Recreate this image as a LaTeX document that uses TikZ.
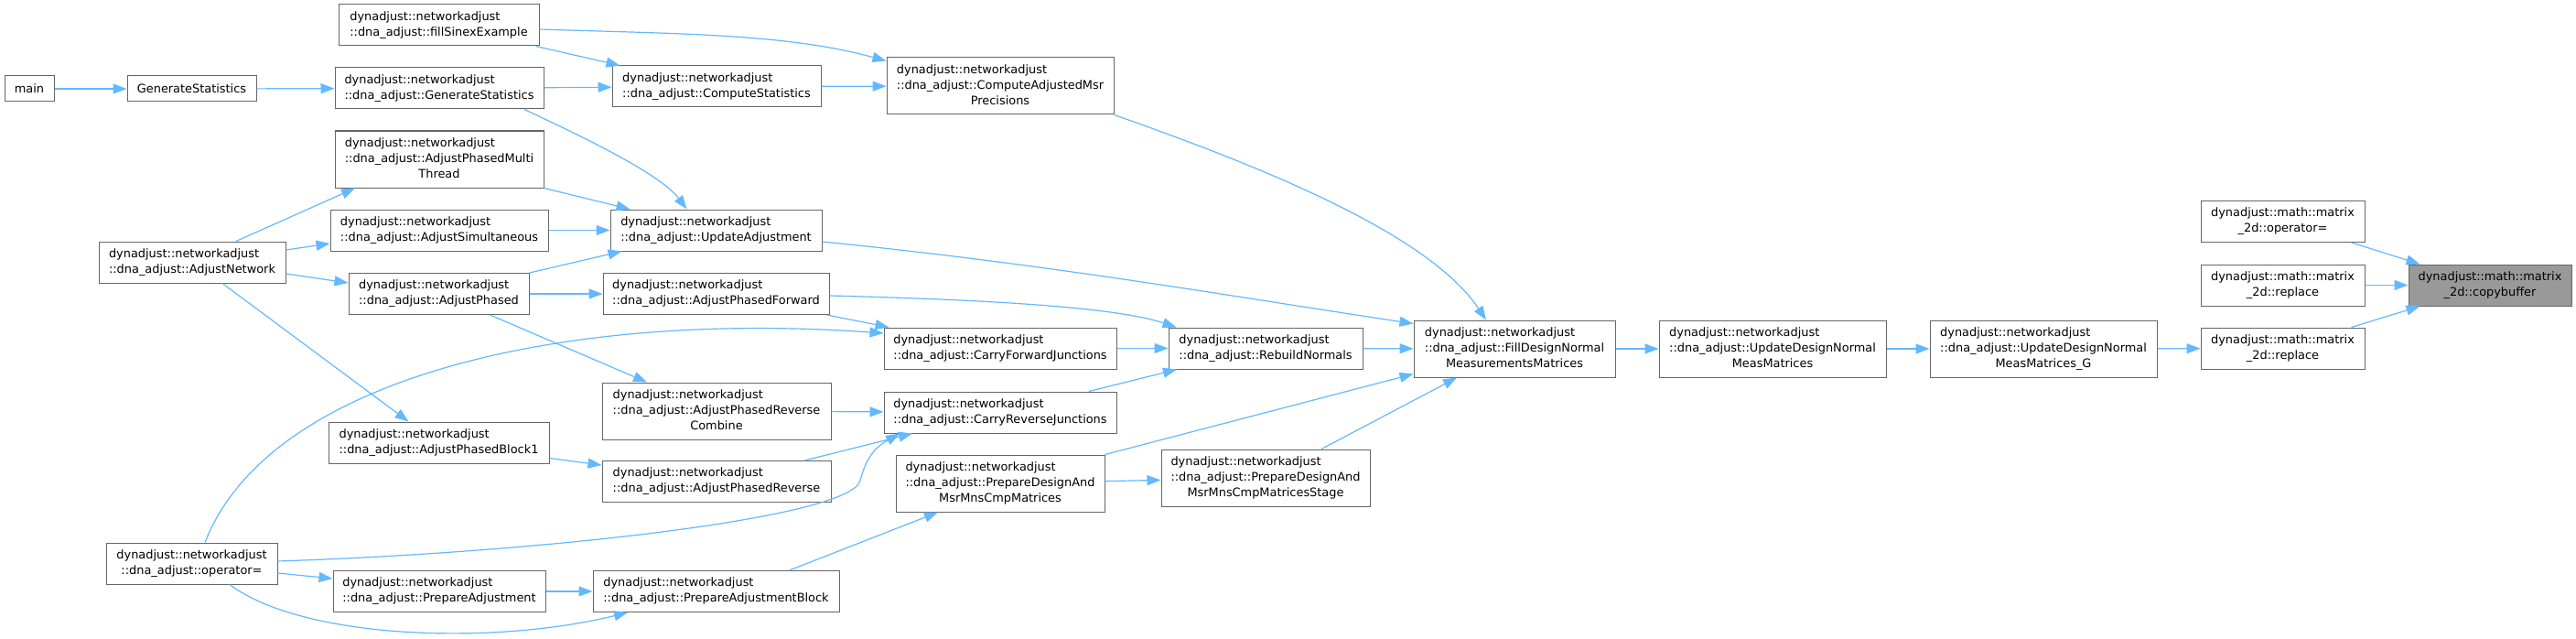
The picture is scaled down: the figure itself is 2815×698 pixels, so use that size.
\documentclass[tikz,border=0pt]{standalone}
\usepackage{fontspec}
\setmainfont{DejaVu Sans}
\usepackage{tikz}
\usetikzlibrary{arrows.meta, positioning, calc}
\usepackage{xcolor}
\definecolor{doxedge}{HTML}{63B8FF}
\definecolor{doxline}{HTML}{666666}
\definecolor{doxfocus}{HTML}{999999}
\newcommand{\fnl}[2]{\begin{tabular}{@{}l@{}}#1\\\multicolumn{1}{@{}c@{}}{#2}\end{tabular}}
\tikzset{
  fn/.style={rectangle, draw=doxline, fill=white, line width=1pt,
    inner sep=0pt, minimum height=45pt,
    font=\fontsize{12.9}{16.7}\selectfont},
  fnS/.style={fn, minimum height=28pt},
  fnT/.style={fn, minimum height=62pt},
  fnH/.style={fn, fill=doxfocus},
  arrC/.style={-{Triangle[length=15pt,width=11pt]}, line width=1.2pt, draw=doxedge},
}

\begin{document}
\begin{tikzpicture}[x=1pt, y=-1pt]
  \useasboundingbox (0,0) rectangle (2815,698);

  % ---- Column 1-2: entry points ----
  \node[fnS, minimum width=54pt]  (main) at (32,97)   {main};
  \node[fnS, minimum width=141pt] (gs)   at (209.5,97) {GenerateStatistics};
  \node[fn, minimum width=204pt]  (anet) at (210,286.5)
       {\fnl{dynadjust::networkadjust}{::dna\_adjust::AdjustNetwork}};
  \node[fn, minimum width=187pt]  (dop)  at (209.5,615.5)
       {\fnl{dynadjust::networkadjust}{::dna\_adjust::operator=}};

  % ---- Column 3 ----
  \node[fn, minimum width=219pt]  (fse)  at (479.5,27.5)
       {\fnl{dynadjust::networkadjust}{::dna\_adjust::fillSinexExample}};
  \node[fn, minimum width=228pt]  (dgs)  at (480,96.5)
       {\fnl{dynadjust::networkadjust}{::dna\_adjust::GenerateStatistics}};
  \node[fnT, minimum width=228pt] (apmt) at (480,174)
       {\fnl{dynadjust::networkadjust\\::dna\_adjust::AdjustPhasedMulti}{Thread}};
  \node[fn, minimum width=238pt]  (asim) at (480,251.5)
       {\fnl{dynadjust::networkadjust}{::dna\_adjust::AdjustSimultaneous}};
  \node[fn, minimum width=197pt]  (aph)  at (479.5,321)
       {\fnl{dynadjust::networkadjust}{::dna\_adjust::AdjustPhased}};
  \node[fn, minimum width=241pt]  (apb1) at (479.5,483.5)
       {\fnl{dynadjust::networkadjust}{::dna\_adjust::AdjustPhasedBlock1}};
  \node[fn, minimum width=232pt]  (padj) at (480,646)
       {\fnl{dynadjust::networkadjust}{::dna\_adjust::PrepareAdjustment}};

  % ---- Column 4 ----
  \node[fn, minimum width=228pt]  (cst)  at (783,94.5)
       {\fnl{dynadjust::networkadjust}{::dna\_adjust::ComputeStatistics}};
  \node[fn, minimum width=231pt]  (uadj) at (782.5,251.5)
       {\fnl{dynadjust::networkadjust}{::dna\_adjust::UpdateAdjustment}};
  \node[fn, minimum width=247pt]  (apf)  at (782.5,321)
       {\fnl{dynadjust::networkadjust}{::dna\_adjust::AdjustPhasedForward}};
  \node[fnT, minimum width=250pt] (aprc) at (783,449)
       {\fnl{dynadjust::networkadjust\\::dna\_adjust::AdjustPhasedReverse}{Combine}};
  \node[fn, minimum width=250pt]  (apr)  at (783,526)
       {\fnl{dynadjust::networkadjust}{::dna\_adjust::AdjustPhasedReverse}};
  \node[fn, minimum width=269pt]  (padjb) at (782.5,646)
       {\fnl{dynadjust::networkadjust}{::dna\_adjust::PrepareAdjustmentBlock}};

  % ---- Column 5 ----
  \node[fnT, minimum width=248pt] (camp) at (1093,94)
       {\fnl{dynadjust::networkadjust\\::dna\_adjust::ComputeAdjustedMsr}{Precisions}};
  \node[fn, minimum width=254pt]  (cfj)  at (1093,380.5)
       {\fnl{dynadjust::networkadjust}{::dna\_adjust::CarryForwardJunctions}};
  \node[fn, minimum width=254pt]  (crj)  at (1093,450.5)
       {\fnl{dynadjust::networkadjust}{::dna\_adjust::CarryReverseJunctions}};
  \node[fnT, minimum width=228pt] (pdm)  at (1093,528)
       {\fnl{dynadjust::networkadjust\\::dna\_adjust::PrepareDesignAnd}{MsrMnsCmpMatrices}};

  % ---- Column 6 ----
  \node[fn, minimum width=212pt]  (rbn)  at (1383,380.5)
       {\fnl{dynadjust::networkadjust}{::dna\_adjust::RebuildNormals}};
  \node[fnT, minimum width=228pt] (pdms) at (1383,522)
       {\fnl{dynadjust::networkadjust\\::dna\_adjust::PrepareDesignAnd}{MsrMnsCmpMatricesStage}};

  % ---- Columns 7-9 ----
  \node[fnT, minimum width=220pt] (fdn)  at (1655,381)
       {\fnl{dynadjust::networkadjust\\::dna\_adjust::FillDesignNormal}{MeasurementsMatrices}};
  \node[fnT, minimum width=248pt] (udn)  at (1937,381)
       {\fnl{dynadjust::networkadjust\\::dna\_adjust::UpdateDesignNormal}{MeasMatrices}};
  \node[fnT, minimum width=248pt] (udng) at (2233,381)
       {\fnl{dynadjust::networkadjust\\::dna\_adjust::UpdateDesignNormal}{MeasMatrices\_G}};

  % ---- Columns 10-11: matrix_2d ----
  \node[fn, minimum width=179pt]  (mop)  at (2494.5,242)
       {\fnl{dynadjust::math::matrix}{\_2d::operator=}};
  \node[fn, minimum width=179pt]  (rep1) at (2494.5,311.5)
       {\fnl{dynadjust::math::matrix}{\_2d::replace}};
  \node[fn, minimum width=179pt]  (rep2) at (2494.5,380.5)
       {\fnl{dynadjust::math::matrix}{\_2d::replace}};
  \node[fnH, minimum width=178pt] (cpb)  at (2721,311.5)
       {\fnl{dynadjust::math::matrix}{\_2d::copybuffer}};

  % ---- Arrows ----
  \draw[arrC] (main) -- (gs);
  \draw[arrC] (gs)   -- (dgs);
  \draw[arrC] (dgs)  -- (cst);
  \draw[arrC] ([xshift=93pt]dgs.south) .. controls +(55,26) and +(-30,-40) .. ([xshift=-32pt]uadj.north);
  \draw[arrC] ([xshift=-4pt]fse.south east) -- ([xshift=9pt]cst.north west);
  \draw[arrC] ([yshift=-4.5pt]fse.east) .. controls +(150,5) and +(-110,-30) .. ([yshift=-4pt]camp.north west);
  \draw[arrC] (cst)  -- (camp);
  \draw[arrC] (camp.south east) .. controls +(180,63) and +(-60,-90) .. ([xshift=-31pt]fdn.north);

  \draw[arrC] ([xshift=48pt]anet.north) -- ([xshift=-92pt]apmt.south);
  \draw[arrC] ([yshift=13.5pt]anet.east) -- ([yshift=-14.5pt]asim.west);
  \draw[arrC] ([yshift=-12.5pt]anet.east) -- ([yshift=12pt]aph.west);
  \draw[arrC] ([xshift=33pt]anet.south) -- ([xshift=-33pt]apb1.north);

  \draw[arrC] (apmt.south east) -- ([xshift=22pt]uadj.north west);
  \draw[arrC] (asim) -- (uadj);
  \draw[arrC] (aph.north east) -- ([xshift=13pt]uadj.south west);
  \draw[arrC] (aph)  -- (apf);
  \draw[arrC] ([xshift=56pt]aph.south) -- ([xshift=-76pt]aprc.north);
  \draw[arrC] ([yshift=-17pt]apb1.east) -- ([yshift=18pt]apr.west);

  \draw[arrC] ([yshift=-12.5pt]uadj.east) .. controls +(250,25) and +(-200,-30) .. ([yshift=-4pt]fdn.north west);
  \draw[arrC] ([yshift=-2pt]apf.east) .. controls +(200,5) and +(-60,-20) .. ([xshift=9pt]rbn.north west);
  \draw[arrC] ([xshift=-3pt]apf.south east) -- ([xshift=6pt]cfj.north west);
  \draw[arrC] (aprc) -- (crj);
  \draw[arrC] ([xshift=96pt]apr.north) -- ([xshift=-96pt]crj.south);

  \draw[arrC] ([xshift=14.5pt]dop.north) .. controls +(70,-180) and +(-350,-25) .. ([yshift=16.5pt]cfj.west);
  \draw[arrC] ([yshift=2.5pt]dop.east) .. controls (600,603) and (930,565) .. (940,525)
              .. controls (948,493) and (963,485) .. ([xshift=-110pt]crj.south);
  \draw[arrC] ([yshift=-10.5pt]dop.east) -- ([yshift=14pt]padj.west);
  \draw[arrC] ([xshift=41.5pt]dop.south) .. controls +(80,60) and +(-146,36) .. ([xshift=-96.5pt]padjb.south);
  \draw[arrC] (padj) -- (padjb);
  \draw[arrC] ([xshift=80pt]padjb.north) -- ([xshift=-68pt]pdm.south);

  \draw[arrC] (cfj)  -- (rbn);
  \draw[arrC] ([xshift=97pt]crj.north) -- ([xshift=-97pt]rbn.south);
  \draw[arrC] (rbn)  -- (fdn);
  \draw[arrC] (pdm.north east) -- ([yshift=4pt]fdn.south west);
  \draw[arrC] (pdm)  -- (pdms);
  \draw[arrC] ([xshift=61pt]pdms.north) -- ([xshift=-63pt]fdn.south);

  \draw[arrC] (fdn)  -- (udn);
  \draw[arrC] (udn)  -- (udng);
  \draw[arrC] (udng) -- (rep2);
  \draw[arrC] ([xshift=75pt]mop.south) -- ([xshift=13pt]cpb.north west);
  \draw[arrC] (rep1) -- (cpb);
  \draw[arrC] ([xshift=75pt]rep2.north) -- ([xshift=13pt]cpb.south west);
\end{tikzpicture}
\end{document}
